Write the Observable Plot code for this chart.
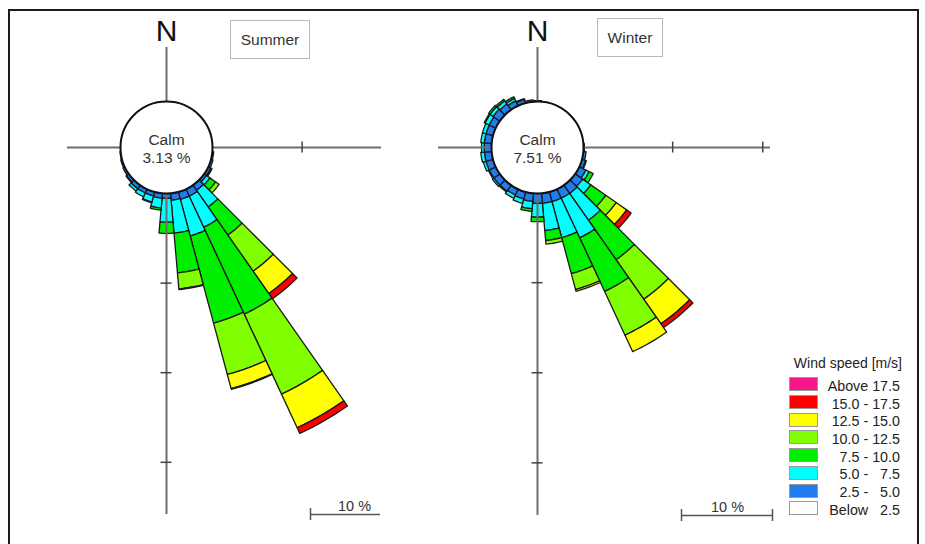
<!DOCTYPE html>
<html>
<head>
<meta charset="utf-8">
<script src="https://cdn.jsdelivr.net/npm/d3@7"></script>
<script src="https://cdn.jsdelivr.net/npm/@observablehq/plot@0.6"></script>
<style>
  body { margin: 0; background: #fff; font-family: "Liberation Sans", Arial, sans-serif; }
  #root { position: relative; width: 925px; height: 544px; overflow: hidden; background: #fff; }
  .plot { position: absolute; top: 0; }
  .frame { position: absolute; left: 8px; top: 9px; width: 907px; height: 600px; border: 2px solid #1a1a1a; border-bottom: none; }
  .titlebox { position: absolute; box-sizing: border-box; border: 1.5px solid #b8b8b8; display: flex; align-items: center; justify-content: center; font-size: 15.5px; color: #333; }
  .lg-title { position: absolute; right: 23px; top: 356px; font-size: 14px; line-height: 14px; color: #222; white-space: pre; }
  .lg-sw { position: absolute; left: 789px; width: 29px; height: 14px; box-sizing: border-box; border: 1px solid #9a9a9a; }
  .lg-lab { position: absolute; right: 25px; font-size: 14.3px; line-height: 14px; color: #222; white-space: pre; }
</style>
</head>
<body>
<div id="root"></div>
<script>
// ---------- data ----------
const directions = d3.range(0, 360, 10); // bearing of each 10-degree sector

// legend order (top to bottom)
const speedClasses = ["Above 17.5", "15.0 - 17.5", "12.5 - 15.0", "10.0 - 12.5", "7.5 - 10.0", "5.0 - \u20077.5", "2.5 - \u20075.0", "Below \u20072.5"];
const speedColors  = ["#f5168a", "#ff0000", "#ffff00", "#80ff00", "#00ee00", "#00ffff", "#1f7df0", "#ffffff"];

// Summer frequencies (%) per direction, by speed class
const summerCalm = 3.13;
const summer25 = [0,0,0,0,0,0,0,0,0,0, 0.2,0.3,0.4,0.4,0.9,1.1,1.1,1.0,0.7,0.7, 0.6,0.6,0.6,0.4,0.3,0.2,0.1,0,0,0, 0,0,0,0,0,0];
const summer50 = [0,0,0,0,0,0,0,0,0,0, 0,0,0.1,0.6,2.9,4.9,5.4,4.7,3.4,1.4, 0.9,0.6,0.4,0.1,0,0,0,0,0,0, 0,0,0,0,0,0];
const summer75 = [0,0,0,0,0,0,0,0,0,0, 0,0,0.1,1.0,4.9,13.7,12.9,5.7,1.6,0.3, 0.1,0,0,0,0,0,0,0,0,0, 0,0,0,0,0,0];
const summer100 = [0,0,0,0,0,0,0,0,0,0, 0,0,0,0.6,6.3,12.6,7.6,2.3,0,0, 0,0,0,0,0,0,0,0,0,0, 0,0,0,0,0,0];
const summer125 = [0,0,0,0,0,0,0,0,0,0, 0,0,0,0,3.9,5.3,2.1,0.1,0,0, 0,0,0,0,0,0,0,0,0,0, 0,0,0,0,0,0];
const summer150 = [0,0,0,0,0,0,0,0,0,0, 0,0,0,0,0.9,0.9,0.1,0,0,0, 0,0,0,0,0,0,0,0,0,0, 0,0,0,0,0,0];

// Winter frequencies (%)
const winterCalm = 7.51;
const winter25 = [0.1,0,0,0,0,0,0,0,0,0.1, 0.3,0.4,0.8,1.0,1.1,1.1,1.1,1.1,1.1,0.9, 0.8,0.7,0.8,0.8,0.8,0.8,0.8,0.8,0.8,0.8, 0.8,0.9,0.8,0.6,0.4,0.2];
const winter50 = [0,0,0,0,0,0,0,0,0,0, 0,0.1,0.4,1.1,3.6,4.8,4.1,3.0,1.5,0.8, 0.5,0.4,0.1,0.2,0.1,0.3,0.4,0.3,0.4,0.4, 0.5,0.4,0.4,0.3,0.1,0];
const winter75 = [0,0,0,0,0,0,0,0,0,0, 0,0,0.5,2.0,5.3,6.5,4.1,1.1,0.5,0.3, 0,0,0,0,0,0,0,0,0,0, 0.1,0.2,0.2,0.2,0,0];
const winter100 = [0,0,0,0,0,0,0,0,0,0, 0,0,0,1.4,5.3,5.3,1.8,0.4,0,0, 0,0,0,0,0,0,0,0,0,0, 0,0,0,0,0,0];
const winter125 = [0,0,0,0,0,0,0,0,0,0, 0,0,0,1.4,3.3,2.0,0.2,0,0,0, 0,0,0,0,0,0,0,0,0,0, 0,0,0,0,0,0];
const winter150 = [0,0,0,0,0,0,0,0,0,0, 0,0,0,0.6,0.5,0,0,0,0,0, 0,0,0,0,0,0,0,0,0,0, 0,0,0,0,0,0];

const scaleBarPct = 10;
const summerTicks = [12.8, 25.6, 38.4];   // ring ticks (% beyond calm circle)
const winterTicks = [9.8, 19.7, 29.6];

// ---------- layout ----------
const W = 925, H = 544;
const root = document.getElementById("root");

function wedges(series, innerU) {
  const pts = [];
  directions.forEach((dir, i) => {
    let r0 = innerU;
    series.forEach(([cls, vals]) => {
      const v = vals[i];
      if (!(v > 0)) return;
      const r1 = r0 + v;
      const id = dir + "|" + cls;
      const n = 8;
      for (let s = 0; s <= n; s++) {
        const a = (dir - 5 + 10 * s / n) * Math.PI / 180;
        pts.push({id, cls, x: r1 * Math.sin(a), y: r1 * Math.cos(a)});
      }
      for (let s = n; s >= 0; s--) {
        const a = (dir - 5 + 10 * s / n) * Math.PI / 180;
        pts.push({id, cls, x: r0 * Math.sin(a), y: r0 * Math.cos(a)});
      }
      r0 = r1;
    });
  });
  return pts;
}

function rose(cfg) {
  const {left, width, cx, cy, k, innerPx, series, calm, line, ticks, bar} = cfg;
  const u = (px) => px / k;
  const lcx = cx - left;
  const innerU = u(innerPx);
  const topU = u(cy - line.top), bottomU = -u(line.bottom - cy);
  const leftU = -u(cx - line.left), rightU = u(line.right - cx);
  const tickR = ticks.map((t) => innerU + t);
  const eastTicks = tickR.filter((r) => r <= rightU);
  const southTicks = tickR.filter((r) => r <= -bottomU);
  const th = u(5.5);
  const barX1 = u(bar.x - cx), barX2 = barX1 + scaleBarPct, barY = -u(bar.y - cy);
  const barTicks = bar.both ? [barX1, barX2] : [barX1];
  const svg = Plot.plot({
    width, height: H, margin: 0,
    x: {domain: [-lcx / k, (width - lcx) / k], range: [0, width], axis: null},
    y: {domain: [-(H - cy) / k, cy / k], range: [H, 0], axis: null},
    color: {domain: speedClasses, range: speedColors},
    style: {background: "transparent", fontFamily: "'Liberation Sans', Arial, sans-serif", overflow: "visible"},
    marks: [
      Plot.line(wedges(series, innerU), {x: "x", y: "y", z: "id", fill: "cls", stroke: "#1a1a1a", strokeWidth: 1.3, curve: "linear-closed"}),
      Plot.ruleX([0], {y1: bottomU, y2: topU, stroke: "#6e6e6e", strokeWidth: 2}),
      Plot.ruleY([0], {x1: leftU, x2: rightU, stroke: "#6e6e6e", strokeWidth: 2}),
      Plot.ruleX(eastTicks, {x: (d) => d, y1: -th, y2: th, stroke: "#444", strokeWidth: 1.5}),
      Plot.ruleY(southTicks, {y: (d) => -d, x1: -th, x2: th, stroke: "#444", strokeWidth: 1.5}),
      Plot.dot([0], {x: 0, y: 0, r: innerPx, fill: "white", stroke: "#111", strokeWidth: 2}),
      Plot.text(["N"], {x: 0, y: topU, dy: -7, text: (d) => d, lineAnchor: "bottom", fontSize: 30, fill: "#111"}),
      Plot.text(["Calm"], {x: 0, y: 0, dy: -3, text: (d) => d, lineAnchor: "bottom", fontSize: 15.5, fill: "#333"}),
      Plot.text([calm], {x: 0, y: 0, dy: 15, text: (d) => d.toFixed(2) + " %", lineAnchor: "bottom", fontSize: 15.5, fill: "#333"}),
      Plot.ruleY([barY], {x1: barX1, x2: barX2, stroke: "#555", strokeWidth: 1.5}),
      Plot.ruleX(barTicks, {x: (d) => d, y1: barY - u(6), y2: barY + u(6), stroke: "#555", strokeWidth: 1.5}),
      Plot.text([scaleBarPct], {x: u(bar.textX - cx), y: barY, dy: -4, text: (d) => d + " %", lineAnchor: "bottom", fontSize: 14.5, fill: "#333"})
    ]
  });
  svg.classList.add("plot");
  svg.style.left = left + "px";
  root.appendChild(svg);
}

const stackOrder = (a25, a50, a75, a100, a125, a150) => [
  [speedClasses[6], a25], [speedClasses[5], a50], [speedClasses[4], a75],
  [speedClasses[3], a100], [speedClasses[2], a125], [speedClasses[1], a150]
];

rose({
  left: 0, width: 430, cx: 166, cy: 147, k: 7.0, innerPx: 46,
  series: stackOrder(summer25, summer50, summer75, summer100, summer125, summer150),
  calm: summerCalm,
  line: {top: 47, bottom: 514, left: 67, right: 381},
  ticks: summerTicks,
  bar: {x: 310, y: 514, both: false, textX: 354}
});
rose({
  left: 430, width: 495, cx: 537, cy: 147, k: 9.1, innerPx: 46,
  series: stackOrder(winter25, winter50, winter75, winter100, winter125, winter150),
  calm: winterCalm,
  line: {top: 47, bottom: 515, left: 438, right: 770},
  ticks: winterTicks,
  bar: {x: 681, y: 515, both: true, textX: 727}
});

// frame and title boxes
const frame = document.createElement("div"); frame.className = "frame"; root.appendChild(frame);
[["Summer", 230, 20, 80, 39], ["Winter", 597, 18, 66, 39]].forEach(([t, x, y, w, h]) => {
  const b = document.createElement("div");
  b.className = "titlebox";
  Object.assign(b.style, {left: x + "px", top: y + "px", width: w + "px", height: h + "px"});
  b.textContent = t;
  root.appendChild(b);
});

// legend
const lt = document.createElement("div"); lt.className = "lg-title"; lt.textContent = "Wind speed [m/s]"; root.appendChild(lt);
speedClasses.forEach((c, i) => {
  const top = 377.3 + i * 17.7;
  const sw = document.createElement("div"); sw.className = "lg-sw";
  sw.style.top = top + "px"; sw.style.background = speedColors[i];
  root.appendChild(sw);
  const lab = document.createElement("div"); lab.className = "lg-lab";
  lab.style.top = (top + 1.5) + "px"; lab.textContent = c;
  root.appendChild(lab);
});
</script>
</body>
</html>
